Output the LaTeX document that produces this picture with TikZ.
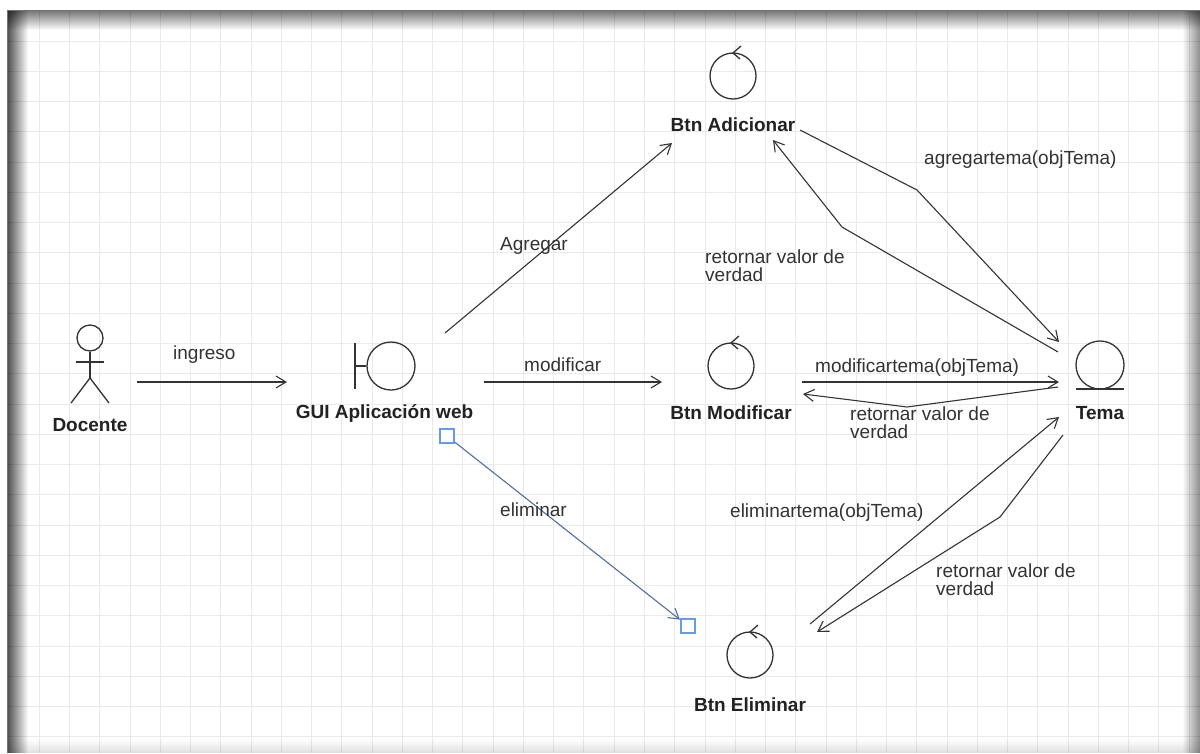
\documentclass[tikz,border=0pt]{standalone}
\usepackage{fontspec}
\setmainfont{Liberation Sans}
\usetikzlibrary{arrows.meta,fadings}

\definecolor{ink}{RGB}{51,51,51}
\definecolor{titleink}{RGB}{34,34,34}
\definecolor{gridc}{RGB}{234,234,234}
\definecolor{selblue}{RGB}{100,155,240}
\definecolor{seledge}{RGB}{80,110,165}

\tikzset{
  outline/.style={draw=ink, line width=1.3pt},
  lbl/.style={font=\fontsize{19}{18.5}\selectfont, text=ink, inner sep=0pt},
  iconlabel/.style={font=\fontsize{19}{18}\selectfont\bfseries, text=titleink, inner sep=0pt},
  msg/.style={draw=ink, line width=1.1pt, line join=round,
              -{Straight Barb[length=10pt,width=12pt,line width=1.1pt]}},
  handle/.style={draw=selblue, fill=white, line width=1.6pt, minimum size=14.5pt, inner sep=0pt},
  ctrl/.pic={
    \node[outline, circle, minimum size=46pt, inner sep=0pt] (-c) at (0,0) {};
    \draw[outline] (8,-30) -- (0,-23) -- (7,-17);
  },
}

\begin{document}
\begin{tikzpicture}[x=1pt,y=-1pt]
  % canvas and grid
  \fill[white] (0,0) rectangle (1200,753);
  \useasboundingbox (0,0) rectangle (1200,753);
  \foreach \i in {0,...,38}
    \draw[gridc, line width=1pt] ({39.3+30.26*\i},10) -- ({39.3+30.26*\i},753);
  \foreach \j in {0,...,23}
    \draw[gridc, line width=1pt] (7,{41+30.26*\j}) -- (1200,{41+30.26*\j});

  % inner shadow of the window frame
  \fill[black, opacity=0.7, path fading=east] (7,10) rectangle (28,753);
  \fill[black, opacity=0.55, path fading=south] (7,10) rectangle (1200,30);
  \fill[black, opacity=0.45, path fading=west] (1182,10) rectangle (1200,753);
  \fill[black, opacity=0.12, path fading=north] (7,738) rectangle (1200,753);
  \draw[black!55, line width=1pt] (7,753) -- (7,10) -- (1200,10);

  % actor: Docente
  \node[outline, circle, minimum size=26pt, inner sep=0pt] (docHead) at (90,338) {};
  \coordinate (docHip) at (90,378);
  \draw[outline] (docHead.south) -- (docHip);
  \draw[outline] (76,362) -- (104,362);
  \draw[outline] (71,403) -- (docHip) -- (109,403);
  \node[iconlabel, anchor=base] (docente) at (90,431) {Docente};

  % boundary: GUI Aplicacion web
  \node[outline, circle, minimum size=48pt, inner sep=0pt] (gui) at (391,366) {};
  \coordinate (guiBarTop) at (355,343);
  \coordinate (guiBarBot) at (355,389);
  \coordinate (guiBarMid) at (355,366);
  \draw[outline] (guiBarTop) -- (guiBarBot);
  \draw[outline] (guiBarMid) -- (gui.west);
  \node[iconlabel, anchor=base] (guiLbl) at (384.5,418) {GUI Aplicación web};

  % controls
  \pic (adic) at (733,76) {ctrl};
  \node[iconlabel, anchor=base] (adicLbl) at (733,131) {Btn Adicionar};
  \pic (modi) at (731,366) {ctrl};
  \node[iconlabel, anchor=base] (modiLbl) at (731,419) {Btn Modificar};
  \pic (elim) at (750,655) {ctrl};
  \node[iconlabel, anchor=base] (elimLbl) at (750,711) {Btn Eliminar};

  % entity: Tema
  \node[outline, circle, minimum size=48pt, inner sep=0pt] (tema) at (1100,365) {};
  \coordinate (temaBaseL) at (1076,389);
  \coordinate (temaBaseR) at (1124,389);
  \draw[outline] (temaBaseL) -- (temaBaseR);
  \node[iconlabel, anchor=base] (temaLbl) at (1100,419) {Tema};

  % connector end points
  \coordinate (ingS) at (137,382);   \coordinate (ingE) at (287,382);
  \coordinate (agrS) at (445,333);   \coordinate (agrE) at (672,143);
  \coordinate (modS) at (484,382);   \coordinate (modE) at (662,382);
  \coordinate (atS) at (800,130);    \coordinate (atB) at (917,190);   \coordinate (atE) at (1059,342);
  \coordinate (r1S) at (1058,352);   \coordinate (r1B) at (842,227);   \coordinate (r1E) at (773,140);
  \coordinate (mtS) at (802,382);    \coordinate (mtE) at (1059,382);
  \coordinate (r2S) at (1058,387);   \coordinate (r2B) at (907,407);   \coordinate (r2E) at (803,394);
  \coordinate (etS) at (810,624);    \coordinate (etE) at (1059,417);
  \coordinate (r3S) at (1063,435);   \coordinate (r3B) at (1000,517);  \coordinate (r3E) at (817,632);

  % messages
  \draw[msg] (ingS) -- (ingE);
  \draw[msg] (agrS) -- (agrE);
  \draw[msg] (modS) -- (modE);
  \draw[msg] (atS) -- (atB) -- (atE);
  \draw[msg] (r1S) -- (r1B) -- (r1E);
  \draw[msg] (mtS) -- (mtE);
  \draw[msg] (r2S) -- (r2B) -- (r2E);
  \draw[msg] (etS) -- (etE);
  \draw[msg] (r3S) -- (r3B) -- (r3E);

  % selected connector with its handles
  \node[handle] (hA) at (447,436) {};
  \node[handle] (hB) at (688,626) {};
  \draw[msg, draw=seledge] (hA) -- (hB);

  % message labels (two-line labels are anchored on their last line)
  \node[lbl, anchor=base west] (lIng) at (173,359) {ingreso};
  \node[lbl, anchor=base west] (lAgr) at (500,250) {Agregar};
  \node[lbl, anchor=base west] (lMod) at (524,371) {modificar};
  \node[lbl, anchor=base west] (lEli) at (500,516) {eliminar};
  \node[lbl, anchor=base west] (lAt) at (924,164) {agregartema(objTema)};
  \node[lbl, anchor=base west, align=left] (lR1) at (705,281.5) {retornar valor de\\verdad};
  \node[lbl, anchor=base west] (lMt) at (815,372) {modificartema(objTema)};
  \node[lbl, anchor=base west, align=left] (lR2) at (850,438.5) {retornar valor de\\verdad};
  \node[lbl, anchor=base west] (lEt) at (730,517) {eliminartema(objTema)};
  \node[lbl, anchor=base west, align=left] (lR3) at (936,595.5) {retornar valor de\\verdad};
\end{tikzpicture}
\end{document}
